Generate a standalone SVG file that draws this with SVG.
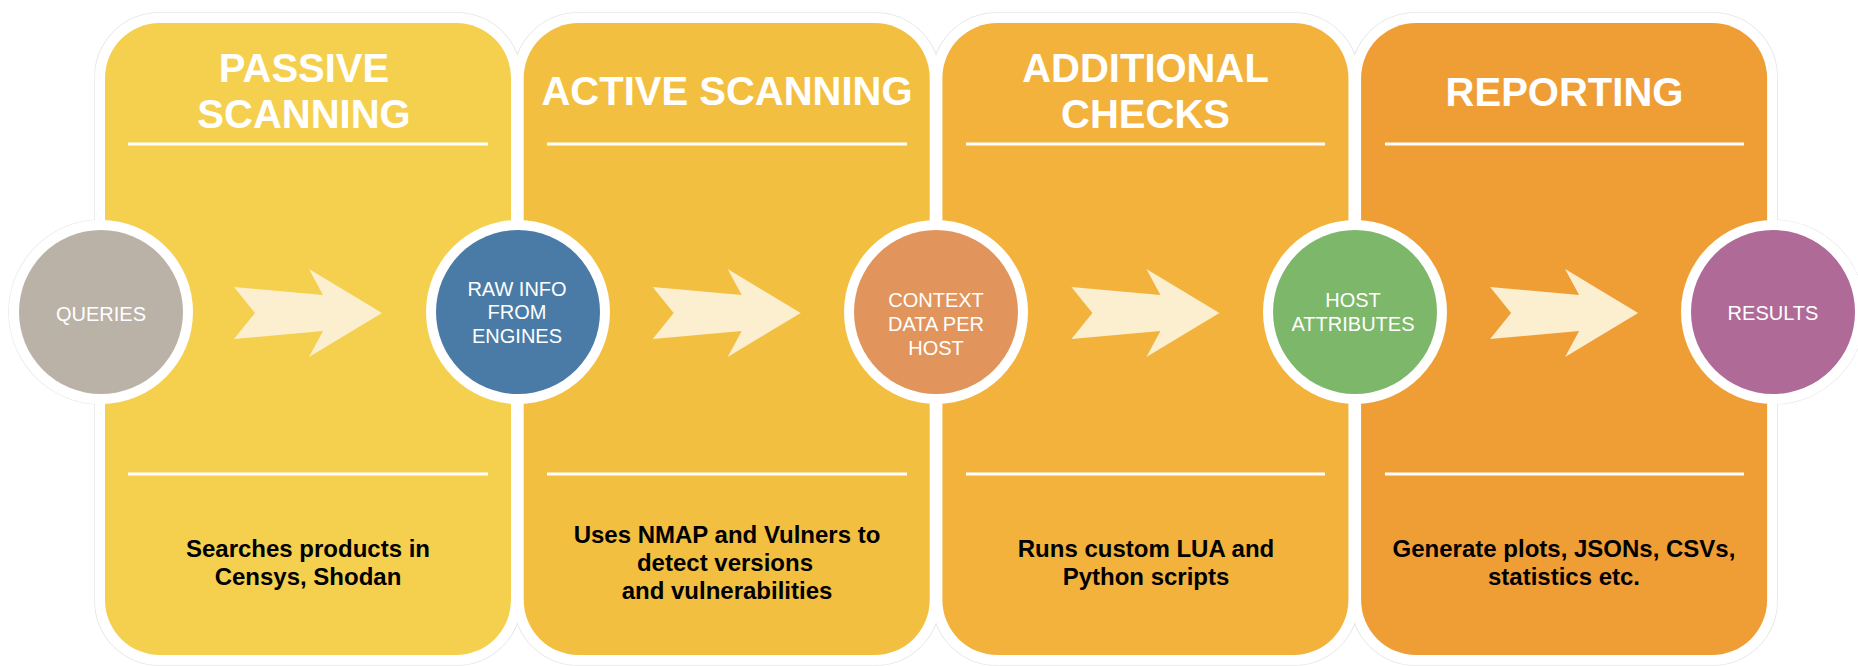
<svg xmlns="http://www.w3.org/2000/svg" width="1858" height="666" viewBox="0 0 1858 666">
  <defs>
    <style>
      .title { font-family: "Liberation Sans", Arial, sans-serif; font-weight: bold; font-size: 40px; fill: #ffffff; text-anchor: middle; }
      .desc { font-family: "Liberation Sans", Arial, sans-serif; font-weight: bold; font-size: 24px; fill: #000000; text-anchor: middle; }
      .ctext { font-family: "Liberation Sans", Arial, sans-serif; font-size: 20px; fill: #ffffff; text-anchor: middle; }
      .rule { stroke: #ffffff; stroke-width: 3; }
      .outline { fill: #ffffff; stroke: #e6e6e6; stroke-width: 1.5; }
      .cover { fill: #ffffff; }
      .arrow { fill: #FBEFCF; }
      .ring { fill: #ffffff; }
    </style>
    <polygon id="arw" points="0,-26 89,-18 75,-44 148,0 75,44 89,18 0,26 21,0"/>
  </defs>
  <rect width="1858" height="666" fill="#ffffff"/>

  <!-- white backing with faint outline -->
  <g id="backing">
    <rect class="outline" x="95" y="13" width="426" height="652" rx="64"/>
    <rect class="outline" x="513.7" y="13" width="426" height="652" rx="64"/>
    <rect class="outline" x="932.4" y="13" width="426" height="652" rx="64"/>
    <rect class="outline" x="1351.1" y="13" width="426" height="652" rx="64"/>
    <circle class="outline" cx="101" cy="312" r="92"/>
    <circle class="outline" cx="518" cy="312" r="92"/>
    <circle class="outline" cx="936" cy="312" r="92"/>
    <circle class="outline" cx="1355" cy="312" r="92"/>
    <circle class="outline" cx="1773" cy="312" r="92"/>
    <rect class="cover" x="95" y="13" width="426" height="652" rx="64"/>
    <rect class="cover" x="513.7" y="13" width="426" height="652" rx="64"/>
    <rect class="cover" x="932.4" y="13" width="426" height="652" rx="64"/>
    <rect class="cover" x="1351.1" y="13" width="426" height="652" rx="64"/>
    <circle class="cover" cx="101" cy="312" r="92"/>
    <circle class="cover" cx="518" cy="312" r="92"/>
    <circle class="cover" cx="936" cy="312" r="92"/>
    <circle class="cover" cx="1355" cy="312" r="92"/>
    <circle class="cover" cx="1773" cy="312" r="92"/>
  </g>

  <g id="panel-passive">
    <rect x="105" y="23" width="406" height="632" rx="55" fill="#F5D04E"/>
    <text class="title" x="304" y="82">PASSIVE</text>
    <text class="title" x="304" y="128">SCANNING</text>
    <line class="rule" x1="128" y1="144" x2="488" y2="144"/>
    <line class="rule" x1="128" y1="474" x2="488" y2="474"/>
    <text class="desc" x="308" y="557">Searches products in</text>
    <text class="desc" x="308" y="585">Censys, Shodan</text>
  </g>

  <g id="panel-active">
    <rect x="523.7" y="23" width="406" height="632" rx="55" fill="#F3BF40"/>
    <text class="title" x="727" y="105">ACTIVE SCANNING</text>
    <line class="rule" x1="547" y1="144" x2="907" y2="144"/>
    <line class="rule" x1="547" y1="474" x2="907" y2="474"/>
    <text class="desc" x="727" y="543">Uses NMAP and Vulners to</text>
    <text class="desc" x="725" y="571">detect versions</text>
    <text class="desc" x="727" y="599">and vulnerabilities</text>
  </g>

  <g id="panel-additional">
    <rect x="942.4" y="23" width="406" height="632" rx="55" fill="#F2B23C"/>
    <text class="title" x="1145.5" y="82">ADDITIONAL</text>
    <text class="title" x="1145.5" y="128">CHECKS</text>
    <line class="rule" x1="966" y1="144" x2="1325" y2="144"/>
    <line class="rule" x1="966" y1="474" x2="1325" y2="474"/>
    <text class="desc" x="1146" y="557">Runs custom LUA and</text>
    <text class="desc" x="1146" y="585">Python scripts</text>
  </g>

  <g id="panel-reporting">
    <rect x="1361.1" y="23" width="406" height="632" rx="55" fill="#EF9E36"/>
    <text class="title" x="1564.5" y="106">REPORTING</text>
    <line class="rule" x1="1385" y1="144" x2="1744" y2="144"/>
    <line class="rule" x1="1385" y1="474" x2="1744" y2="474"/>
    <text class="desc" x="1564" y="557">Generate plots, JSONs, CSVs,</text>
    <text class="desc" x="1564" y="585">statistics etc.</text>
  </g>

  <g id="connectors">
    <use href="#arw" class="arrow" x="234" y="313"/>
    <use href="#arw" class="arrow" x="652.7" y="313"/>
    <use href="#arw" class="arrow" x="1071.4" y="313"/>
    <use href="#arw" class="arrow" x="1490.1" y="313"/>
  </g>

  <g id="node-queries">
    <circle class="ring" cx="101" cy="312" r="92"/>
    <circle cx="101" cy="312" r="82" fill="#BAB2A7"/>
    <text class="ctext" x="101" y="321">QUERIES</text>
  </g>
  <g id="node-raw-info">
    <circle class="ring" cx="518" cy="312" r="92"/>
    <circle cx="518" cy="312" r="82" fill="#4A7BA7"/>
    <text class="ctext" x="517" y="296">RAW INFO</text>
    <text class="ctext" x="517" y="319">FROM</text>
    <text class="ctext" x="517" y="343">ENGINES</text>
  </g>
  <g id="node-context">
    <circle class="ring" cx="936" cy="312" r="92"/>
    <circle cx="936" cy="312" r="82" fill="#E1955D"/>
    <text class="ctext" x="936" y="307">CONTEXT</text>
    <text class="ctext" x="936" y="331">DATA PER</text>
    <text class="ctext" x="936" y="355">HOST</text>
  </g>
  <g id="node-host-attributes">
    <circle class="ring" cx="1355" cy="312" r="92"/>
    <circle cx="1355" cy="312" r="82" fill="#7DB76A"/>
    <text class="ctext" x="1353" y="307">HOST</text>
    <text class="ctext" x="1353" y="331">ATTRIBUTES</text>
  </g>
  <g id="node-results">
    <circle class="ring" cx="1773" cy="312" r="92"/>
    <circle cx="1773" cy="312" r="82" fill="#B06A98"/>
    <text class="ctext" x="1773" y="320">RESULTS</text>
  </g>
</svg>
